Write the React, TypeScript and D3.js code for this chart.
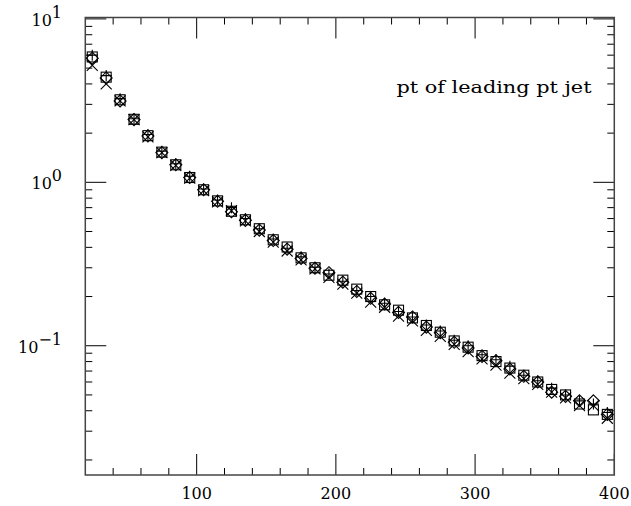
import React from "react";
import * as d3 from "d3";

const xCenters = [25, 35, 45, 55, 65, 75, 85, 95, 105, 115, 125, 135, 145, 155, 165, 175, 185, 195, 205, 215, 225, 235, 245, 255, 265, 275, 285, 295, 305, 315, 325, 335, 345, 355, 365, 375, 385, 395];

const squareSeries = [5.85, 4.4, 3.2, 2.43, 1.93, 1.53, 1.28, 1.07, 0.9, 0.77, 0.665, 0.59, 0.52, 0.445, 0.402, 0.345, 0.3, 0.27, 0.252, 0.222, 0.2, 0.178, 0.165, 0.148, 0.133, 0.121, 0.107, 0.098, 0.087, 0.08, 0.073, 0.066, 0.06, 0.054, 0.05, 0.044, 0.0405, 0.038];
const diamondSeries = [5.75, 4.35, 3.15, 2.42, 1.92, 1.52, 1.28, 1.07, 0.9, 0.765, 0.66, 0.585, 0.51, 0.44, 0.39, 0.342, 0.298, 0.28, 0.245, 0.215, 0.195, 0.18, 0.16, 0.15, 0.13, 0.12, 0.105, 0.097, 0.086, 0.081, 0.072, 0.065, 0.06, 0.052, 0.049, 0.046, 0.046, 0.038];
const crossSeries = [5.2, 4.0, 3.15, 2.42, 1.9, 1.52, 1.27, 1.06, 0.89, 0.76, 0.67, 0.58, 0.5, 0.43, 0.38, 0.335, 0.295, 0.262, 0.238, 0.21, 0.185, 0.172, 0.152, 0.142, 0.124, 0.114, 0.102, 0.092, 0.083, 0.076, 0.068, 0.063, 0.058, 0.052, 0.048, 0.043, 0.043, 0.036];
const plusSeries = [6.0, 4.5, 3.25, 2.45, 1.96, 1.55, 1.3, 1.09, 0.91, 0.78, 0.7, 0.6, 0.52, 0.45, 0.395, 0.35, 0.302, 0.275, 0.248, 0.218, 0.2, 0.182, 0.162, 0.15, 0.134, 0.123, 0.108, 0.1, 0.088, 0.082, 0.075, 0.066, 0.061, 0.055, 0.05, 0.046, 0.044, 0.039];

const xTickMajor = [100, 200, 300, 400];
const xTickMinor = [40, 60, 80, 120, 140, 160, 180, 220, 240, 260, 280, 320, 340, 360, 380];
const yDecades = [1, 0, -1];
const titleText = "pt of leading pt jet";

const L = 85.3, R = 614.3, T = 17.5, B = 475;
const FONT = "'DejaVu Serif', serif";

export default function App() {
  const x = d3.scaleLinear().domain([20, 400]).range([L, R]);
  const y = d3.scaleLog().domain([0.01618, 10.2]).range([B, T]);
  const [y0, y1] = y.domain();

  const yMinor: number[] = [];
  for (let e = -2; e <= 1; e++) {
    for (let m = 2; m <= 9; m++) {
      const v = m * Math.pow(10, e);
      if (v >= y0 && v <= y1) yMinor.push(v);
    }
  }
  const yMajor = yDecades.map((e) => Math.pow(10, e)).filter((v) => v >= y0 && v <= y1);

  const major = 21, minor = 7;
  const s = 5; // marker half-size

  return (
    <svg width={631} height={506} style={{ position: "absolute", left: 0, top: 0, background: "#fff" }}>
      <rect x={0} y={0} width={631} height={506} fill="#fff" />
      {/* ticks */}
      <g stroke="#000" strokeWidth={1}>
        {xTickMajor.map((v) => (
          <g key={"xM" + v}>
            <line x1={x(v)} x2={x(v)} y1={B} y2={B - major} />
            <line x1={x(v)} x2={x(v)} y1={T} y2={T + major} />
          </g>
        ))}
        {xTickMinor.map((v) => (
          <g key={"xm" + v}>
            <line x1={x(v)} x2={x(v)} y1={B} y2={B - minor} />
            <line x1={x(v)} x2={x(v)} y1={T} y2={T + minor} />
          </g>
        ))}
        {yMajor.map((v) => (
          <g key={"yM" + v}>
            <line x1={L} x2={L + major} y1={y(v)} y2={y(v)} />
            <line x1={R} x2={R - major} y1={y(v)} y2={y(v)} />
          </g>
        ))}
        {yMinor.map((v) => (
          <g key={"ym" + v}>
            <line x1={L} x2={L + minor} y1={y(v)} y2={y(v)} />
            <line x1={R} x2={R - minor} y1={y(v)} y2={y(v)} />
          </g>
        ))}
      </g>
      <rect x={L} y={T} width={R - L} height={B - T} fill="none" stroke="#444" strokeWidth={1.5} />

      {/* labels */}
      <g fontFamily={FONT} fontSize={16} fill="#000">
        {xTickMajor.map((v) => (
          <text key={"xl" + v} x={x(v)} y={499} textAnchor="middle">{v}</text>
        ))}
        {yDecades.map((e) => {
          const yy = y(Math.pow(10, e));
          return (
            <text key={"yl" + e} x={62} y={yy + 7} textAnchor="end">
              10
              <tspan dy={-8}>{e < 0 ? "\u2212" + Math.abs(e) : String(e)}</tspan>
            </text>
          );
        })}
        <text x={396.5} y={93} fontSize={16} textLength={195} lengthAdjust="spacingAndGlyphs">{titleText}</text>
      </g>

      {/* markers */}
      <g fill="none" stroke="#000" strokeWidth={1.1}>
        {xCenters.map((xv, i) => (
          <rect key={"sq" + i} x={x(xv) - s} y={y(squareSeries[i]) - s} width={2 * s} height={2 * s} />
        ))}
        {xCenters.map((xv, i) => {
          const cx = x(xv), cy = y(diamondSeries[i]);
          const r = 6;
          return <path key={"dm" + i} d={`M${cx},${cy - r}L${cx + r},${cy}L${cx},${cy + r}L${cx - r},${cy}Z`} />;
        })}
        {xCenters.map((xv, i) => {
          const cx = x(xv), cy = y(crossSeries[i]);
          const r = 5.5;
          return <path key={"cr" + i} d={`M${cx - r},${cy - r}L${cx + r},${cy + r}M${cx - r},${cy + r}L${cx + r},${cy - r}`} />;
        })}
        {xCenters.map((xv, i) => {
          const cx = x(xv), cy = y(plusSeries[i]);
          const r = 5.5;
          return <path key={"pl" + i} d={`M${cx - r},${cy}L${cx + r},${cy}M${cx},${cy - r}L${cx},${cy + r}`} />;
        })}
      </g>
    </svg>
  );
}
